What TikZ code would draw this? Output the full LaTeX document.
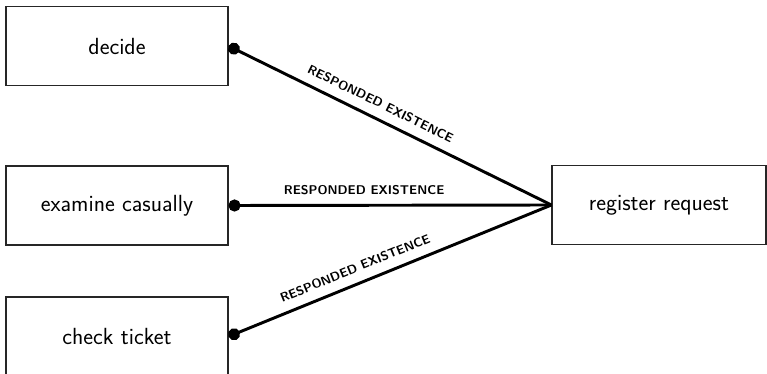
\documentclass[tikz,border=0pt]{standalone}
\usetikzlibrary{arrows.meta}
\begin{document}
\begin{tikzpicture}[x=0.75pt,y=-0.75pt,
  activity/.style={draw=black!85, line width=0.8pt, rectangle,
    minimum width=166.5pt, minimum height=59.25pt, inner sep=0pt,
    font=\fontsize{17.5}{21}\selectfont\sffamily},
  constraint/.style={line width=2.2pt, {Circle[length=9pt]}-},
  tag/.style={font=\fontsize{9.5}{11}\selectfont\sffamily\bfseries,
    sloped, above=5pt, inner sep=2pt}]
  \useasboundingbox (0,0) rectangle (767,374);

  % activities
  \node[activity] (decide)   at (117,46)    {decide};
  \node[activity] (examine)  at (117,205.5) {examine casually};
  \node[activity] (check)    at (117,336.5) {check ticket};
  \node[activity, minimum width=160.5pt] (register) at (659,205) {register request};

  % responded existence constraints
  \draw[constraint] (decide.east)  -- node[tag, pos=0.45] {RESPONDED EXISTENCE} (register.west);
  \draw[constraint] (examine.east) -- node[tag, pos=0.42] {RESPONDED EXISTENCE} (register.west);
  \draw[constraint] (check.east)   -- node[tag, pos=0.41] {RESPONDED EXISTENCE} (register.west);
\end{tikzpicture}
\end{document}
